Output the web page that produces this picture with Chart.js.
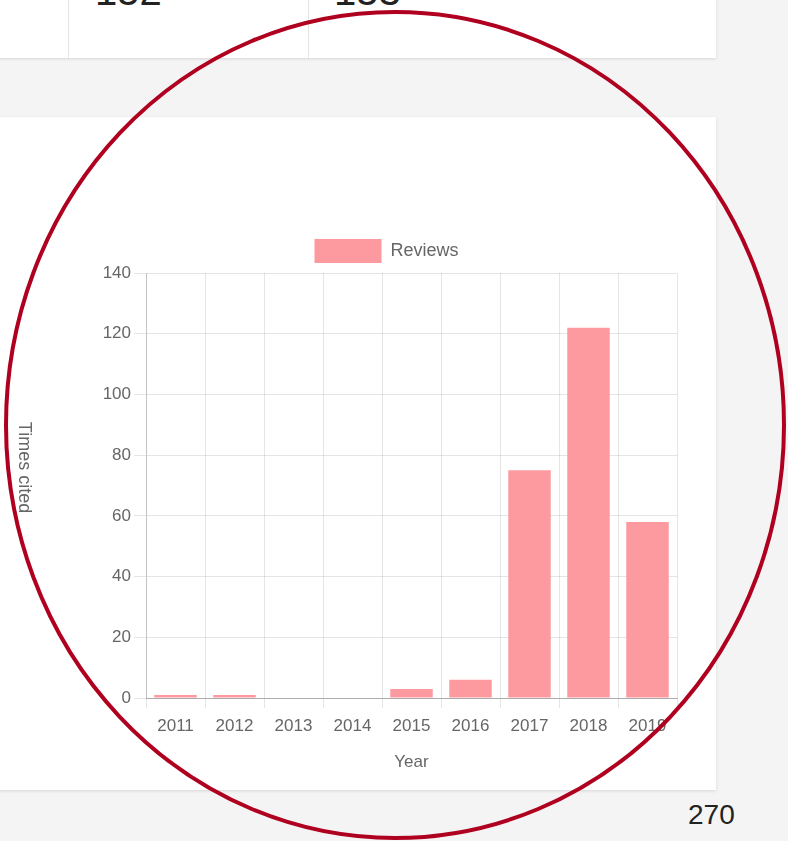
<!DOCTYPE html>
<html>
<head>
<meta charset="utf-8">
<script src="https://cdn.jsdelivr.net/npm/chart.js@4.4.1/dist/chart.umd.min.js"></script>
<style>
    html, body { margin: 0; padding: 0; }
    body { width: 788px; height: 841px; background: #f4f4f4; position: relative; overflow: hidden; font-family: "Liberation Sans", Arial, sans-serif; }
    .card { position: absolute; background: #fff; box-shadow: 0 1px 3px rgba(0,0,0,0.12); }
    .top-card { left: -10px; top: -30px; width: 726px; height: 88px; }
    .cell-line { position: absolute; top: 0; width: 1px; height: 88px; background: #e4e4e4; }
    .big-num { position: absolute; top: -31px; font-size: 40px; color: #222; font-weight: 300; }
    .chart-card { left: -10px; top: 117px; width: 726px; height: 673px; }
    #chart-wrap { position: absolute; left: 0; top: 224px; width: 700px; height: 566px; }
    .page-num { position: absolute; left: 688px; top: 799px; font-size: 28px; color: #222; }
    svg.mark { position: absolute; left: 0; top: 0; pointer-events: none; }
</style>
</head>
<body>
<div class="card top-card">
    <div class="cell-line" style="left: 78px;"></div>
    <div class="cell-line" style="left: 318px;"></div>
</div>
<div class="big-num" style="left: 95px;">152</div>
<div class="big-num" style="left: 334px;">153</div>
<div class="card chart-card"></div>
<div id="chart-wrap"><canvas id="citedChart"></canvas></div>
<div class="page-num">270</div>
<svg class="mark" width="788" height="841">
    <ellipse cx="395" cy="425" rx="389" ry="413" fill="none" stroke="#b00020" stroke-width="4"/>
</svg>
<script>
const years = ['2011', '2012', '2013', '2014', '2015', '2016', '2017', '2018', '2019'];
const reviews = [1, 1, 0, 0, 3, 6, 75, 122, 58];
const seriesLabel = 'Reviews';
const xTitle = 'Year';
const yTitle = 'Times cited';

const textColor = '#666';
const fontFamily = '"Liberation Sans", Arial, sans-serif';

// y title reads top to bottom in the screenshot, so draw it by hand
const yTitlePlugin = {
    id: 'yTitleDown',
    afterDraw(chart) {
        const ctx = chart.ctx;
        const area = chart.chartArea;
        ctx.save();
        ctx.translate(24, (area.top + area.bottom) / 2 - 18);
        ctx.rotate(Math.PI / 2);
        ctx.textAlign = 'center';
        ctx.textBaseline = 'middle';
        ctx.font = '18px ' + fontFamily;
        ctx.fillStyle = textColor;
        ctx.fillText(yTitle, 0, 0);
        ctx.restore();
    }
};

const ctx = document.getElementById('citedChart').getContext('2d');
new Chart(ctx, {
    type: 'bar',
    data: {
        labels: years,
        datasets: [{
            label: seriesLabel,
            data: reviews,
            backgroundColor: '#fd9aa0',
            borderColor: '#fd9aa0',
            borderWidth: 0,
            categoryPercentage: 0.8,
            barPercentage: 0.9
        }]
    },
    options: {
        responsive: true,
        maintainAspectRatio: false,
        animation: false,
        layout: { padding: { top: 0, right: 23, bottom: 0, left: 96 } },
        plugins: {
            legend: {
                position: 'top',
                labels: {
                    boxWidth: 67,
                    boxHeight: 24,
                    padding: 15,
                    color: textColor,
                    font: { family: fontFamily, size: 18 }
                }
            },
            tooltip: { enabled: false }
        },
        scales: {
            x: {
                grid: { color: 'rgba(0,0,0,0.1)', offset: true, tickLength: 10 },
                border: { color: 'rgba(0,0,0,0.25)' },
                ticks: { color: textColor, padding: 8, font: { family: fontFamily, size: 17 } },
                title: { display: true, text: xTitle, color: textColor, font: { family: fontFamily, size: 17 }, padding: { top: 4, bottom: 17 } },
                afterFit: (scale) => { scale.height = 92; }
            },
            y: {
                min: 0,
                max: 140,
                grid: { color: 'rgba(0,0,0,0.1)', tickLength: 12 },
                border: { color: 'rgba(0,0,0,0.15)' },
                ticks: { stepSize: 20, color: textColor, padding: 3, font: { family: fontFamily, size: 17 } },
                afterFit: (scale) => { scale.width = 50; }
            }
        }
    },
    plugins: [yTitlePlugin]
});
</script>
</body>
</html>
